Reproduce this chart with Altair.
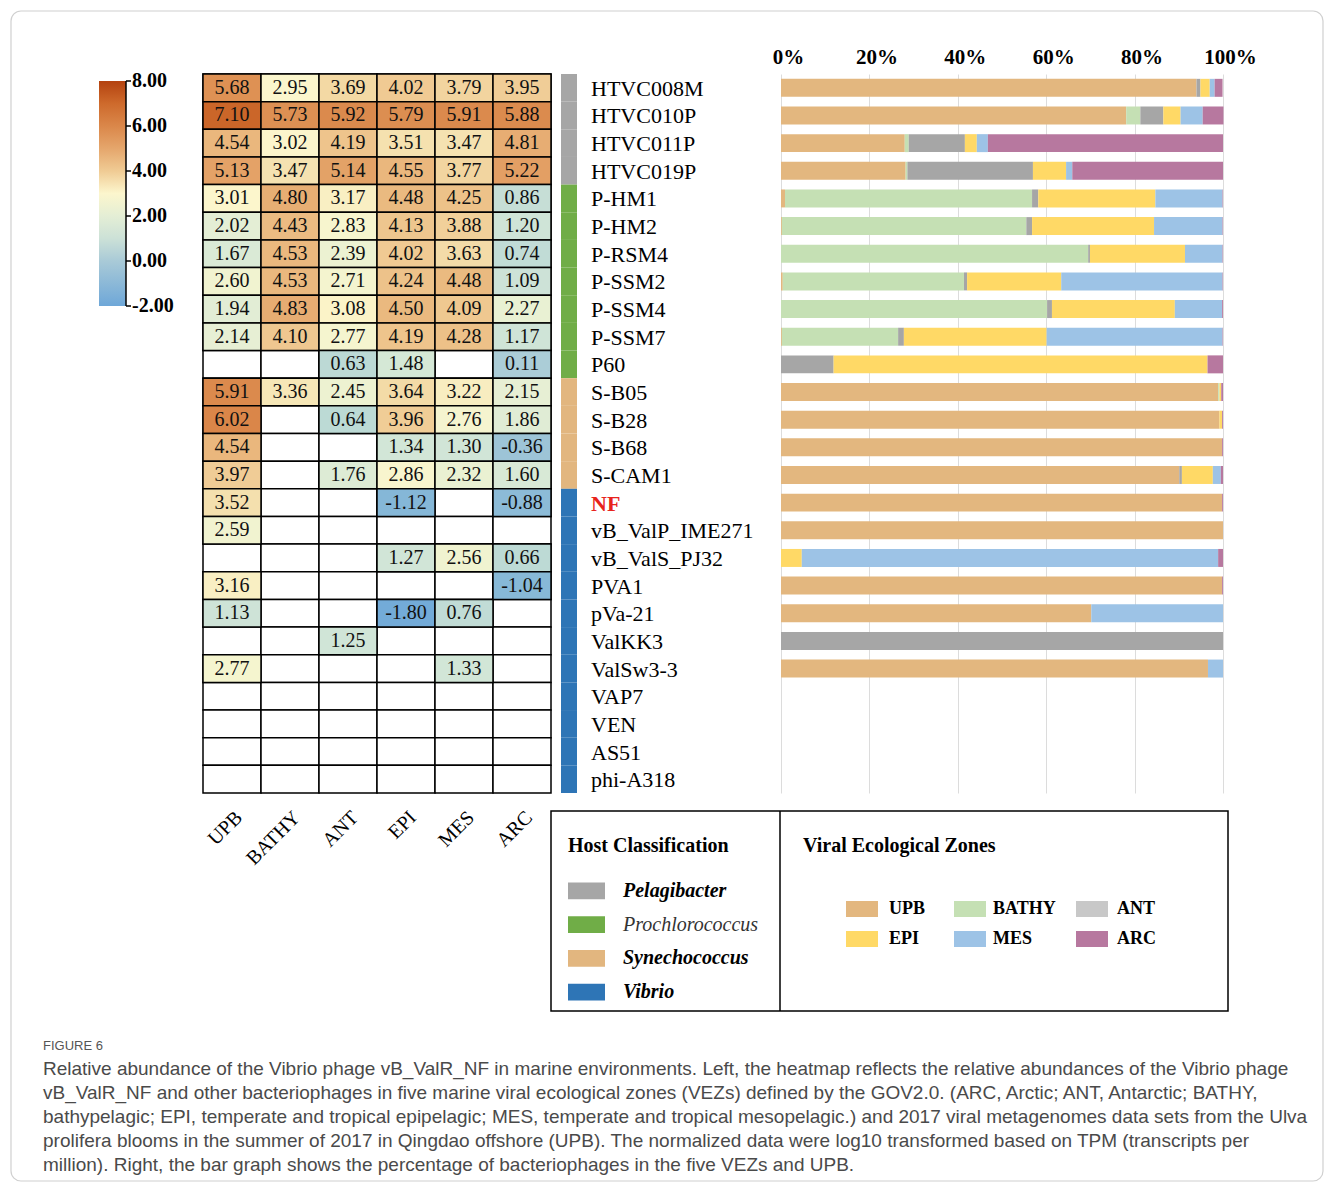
import altair as alt
import pandas as pd

# ---------------- data ----------------
PHAGES = ["HTVC008M", "HTVC010P", "HTVC011P", "HTVC019P", "P-HM1", "P-HM2", "P-RSM4",
          "P-SSM2", "P-SSM4", "P-SSM7", "P60", "S-B05", "S-B28", "S-B68", "S-CAM1", "NF",
          "vB_ValP_IME271", "vB_ValS_PJ32", "PVA1", "pVa-21", "ValKK3", "ValSw3-3",
          "VAP7", "VEN", "AS51", "phi-A318"]
HOSTS = ["Pelagibacter", "Prochlorococcus", "Synechococcus", "Vibrio"]
PHAGE_HOST = ["Pelagibacter"] * 4 + ["Prochlorococcus"] * 7 + ["Synechococcus"] * 4 + ["Vibrio"] * 11
ZONES = ["UPB", "BATHY", "ANT", "EPI", "MES", "ARC"]

N = None
# heatmap: log10(TPM) per zone (None = blank cell)
HEAT_UPB = [5.68, 7.10, 4.54, 5.13, 3.01, 2.02, 1.67, 2.60, 1.94, 2.14, N, 5.91, 6.02, 4.54, 3.97,
            3.52, 2.59, N, 3.16, 1.13, N, 2.77, N, N, N, N]
HEAT_BATHY = [2.95, 5.73, 3.02, 3.47, 4.80, 4.43, 4.53, 4.53, 4.83, 4.10, N, 3.36, N, N, N,
              N, N, N, N, N, N, N, N, N, N, N]
HEAT_ANT = [3.69, 5.92, 4.19, 5.14, 3.17, 2.83, 2.39, 2.71, 3.08, 2.77, 0.63, 2.45, 0.64, N, 1.76,
            N, N, N, N, N, 1.25, N, N, N, N, N]
HEAT_EPI = [4.02, 5.79, 3.51, 4.55, 4.48, 4.13, 4.02, 4.24, 4.50, 4.19, 1.48, 3.64, 3.96, 1.34, 2.86,
            -1.12, N, 1.27, N, -1.80, N, N, N, N, N, N]
HEAT_MES = [3.79, 5.91, 3.47, 3.77, 4.25, 3.88, 3.63, 4.48, 4.09, 4.28, N, 3.22, 2.76, 1.30, 2.32,
            N, N, 2.56, N, 0.76, N, 1.33, N, N, N, N]
HEAT_ARC = [3.95, 5.88, 4.81, 5.22, 0.86, 1.20, 0.74, 1.09, 2.27, 1.17, 0.11, 2.15, 1.86, -0.36, 1.60,
            -0.88, N, 0.66, -1.04, N, N, N, N, N, N, N]
COLORBAR_TICKS = [-2, 0, 2, 4, 6, 8]

# bar graph: percentage of each phage in each zone
PCT_UPB = [94.0, 78.1, 28.0, 28.2, 0.9, 0.2, 0, 0.4, 0, 0.2, 0, 98.9, 99.2, 99.8, 90.1,
           99.8, 100, 0, 99.8, 70.2, 0, 96.6, 0, 0, 0, 0]
PCT_BATHY = [0, 3.2, 0.9, 0.4, 55.9, 55.3, 69.5, 41.0, 60.2, 26.3, 0, 0.3, 0, 0, 0,
             0, 0, 0, 0, 0, 0, 0, 0, 0, 0, 0]
PCT_ANT = [0.9, 5.2, 12.7, 28.4, 1.4, 1.3, 0.4, 0.7, 1.1, 1.3, 11.9, 0, 0, 0, 0.6,
           0, 0, 0, 0, 0, 100, 0, 0, 0, 0, 0]
PCT_EPI = [2.1, 3.9, 2.7, 7.5, 26.5, 27.6, 21.5, 21.3, 27.8, 32.3, 84.6, 0.4, 0.6, 0, 7.0,
           0, 0, 4.7, 0, 0, 0, 0, 0, 0, 0, 0]
PCT_MES = [1.1, 5.0, 2.5, 1.4, 15.2, 15.5, 8.5, 36.5, 10.7, 39.8, 0, 0, 0, 0, 1.8,
           0, 0, 94.2, 0, 29.8, 0, 3.4, 0, 0, 0, 0]
PCT_ARC = [1.8, 4.7, 53.2, 34.1, 0.1, 0.1, 0.1, 0.1, 0.2, 0.1, 3.5, 0.4, 0.2, 0.2, 0.5,
           0.2, 0, 1.1, 0.2, 0, 0, 0, 0, 0, 0, 0]
PCT_TICKS = [0, 20, 40, 60, 80, 100]

FIG_LABEL = "FIGURE 6"
CAPTION = [
    "Relative abundance of the Vibrio phage vB_ValR_NF in marine environments. Left, the heatmap reflects the relative abundances of the Vibrio phage",
    "vB_ValR_NF and other bacteriophages in five marine viral ecological zones (VEZs) defined by the GOV2.0. (ARC, Arctic; ANT, Antarctic; BATHY,",
    "bathypelagic; EPI, temperate and tropical epipelagic; MES, temperate and tropical mesopelagic.) and 2017 viral metagenomes data sets from the Ulva",
    "prolifera blooms in the summer of 2017 in Qingdao offshore (UPB). The normalized data were log10 transformed based on TPM (transcripts per",
    "million). Right, the bar graph shows the percentage of bacteriophages in the five VEZs and UPB.",
]

# ---------------- styles / layout ----------------
SERIF = "Liberation Serif"
SANS = "Liberation Sans"
HOST_COLORS = ["#a6a6a6", "#70ad47", "#e2b67f", "#2e75b6"]
ZONE_COLORS = ["#e3b77f", "#c5e0b4", "#a6a6a6", "#ffd966", "#9dc3e6", "#b7789f"]
ZONE_LEGEND_COLORS = ["#e3b77f", "#c5e0b4", "#c8c8c8", "#ffd966", "#9dc3e6", "#b7789f"]
HEAT_STOPS = [-2, 0, 1, 2, 3, 4, 5, 6, 7, 8]
HEAT_COLORS = ["#6ea7d8", "#a9cad7", "#cce1d7", "#e4eed5", "#fcf6cd", "#f0cb94",
               "#e5a66c", "#da874a", "#ce6a2c", "#b4420f"]

TOP_W, TOP_H = 1020, 719          # shared-row panel
HEAT_RANGE = [0, 348]             # heatmap columns
STRIP_RANGE = [358, 374]          # host colour strip
BAR_RANGE = [578, 1020]           # bar graph
ROW_LABEL_X = 388
CB_X0, CB_X1 = -104, -77          # colour bar
CB_RANGE = [232, 7]
BOT_W, BOT_H = 1025, 200          # legend-box panel
BOX_X0, BOX_DIV, BOX_X1 = 348, 577, 1025
CAP_X, CAP_FIG_Y, CAP_Y = -160, 235, 249
OUTER = (-192, 1120, -800, 370)   # light page frame


def fmt(v):
    if v is None:
        return None
    return ("-" if v < 0 else "") + f"{abs(v):.2f}"


# ---------------- tables ----------------
heat_cols = [HEAT_UPB, HEAT_BATHY, HEAT_ANT, HEAT_EPI, HEAT_MES, HEAT_ARC]
heat_rows = []
for j, z in enumerate(ZONES):
    for i, p in enumerate(PHAGES):
        v = heat_cols[j][i]
        heat_rows.append({"phage": p, "zone": z, "value": v, "label": fmt(v)})
heat_df = pd.DataFrame(heat_rows)

pct_cols = [PCT_UPB, PCT_BATHY, PCT_ANT, PCT_EPI, PCT_MES, PCT_ARC]
bar_rows = []
for j, z in enumerate(ZONES):
    for i, p in enumerate(PHAGES):
        if pct_cols[j][i] > 0:
            bar_rows.append({"phage": p, "zone": z, "zidx": j, "pct": pct_cols[j][i]})
bar_df = pd.DataFrame(bar_rows)

strip_df = pd.DataFrame({"phage": PHAGES, "host": PHAGE_HOST, "col": "host"})
label_df = pd.DataFrame({"phage": PHAGES})
cb_tick_df = pd.DataFrame({"v": COLORBAR_TICKS, "label": [fmt(float(t)) for t in COLORBAR_TICKS]})
cb_span_df = pd.DataFrame({"lo": [HEAT_STOPS[0]], "hi": [HEAT_STOPS[-1]]})

y_rows = alt.Y("phage:N", scale=alt.Scale(domain=PHAGES, paddingInner=0, paddingOuter=0), axis=None)

# ---------------- heatmap ----------------
x_heat = alt.X("zone:N", scale=alt.Scale(domain=ZONES, range=HEAT_RANGE, paddingInner=0, paddingOuter=0),
               axis=alt.Axis(title=None, orient="bottom", labelAngle=-45, labelFont=SERIF,
                             labelFontSize=20, labelColor="black", domain=False, ticks=False,
                             grid=False, labelPadding=14))
hbase = alt.Chart(heat_df).encode(x=x_heat, y=y_rows)
cells_bg = hbase.mark_rect(fill="white", stroke="black", strokeWidth=1.5)
cells = hbase.transform_filter("isValid(datum.value)").mark_rect(stroke="black", strokeWidth=1.5).encode(
    color=alt.Color("value:Q", scale=alt.Scale(domain=HEAT_STOPS, range=HEAT_COLORS), legend=None)
)
cell_text = hbase.transform_filter("isValid(datum.value)").mark_text(
    font=SERIF, fontSize=20, color="#111111").encode(text="label:N")
heatmap = alt.layer(cells_bg, cells, cell_text)

# ---------------- host strip ----------------
strip = alt.Chart(strip_df).mark_rect().encode(
    x=alt.X("col:N", scale=alt.Scale(range=STRIP_RANGE, paddingInner=0, paddingOuter=0), axis=None),
    y=y_rows,
    color=alt.Color("host:N", scale=alt.Scale(domain=HOSTS, range=HOST_COLORS), legend=None),
)

# ---------------- row labels ----------------
row_labels = alt.Chart(label_df).transform_filter("datum.phage !== 'NF'").mark_text(
    align="left", baseline="middle", font=SERIF, fontSize=22, color="black", dy=1
).encode(y=y_rows, x=alt.value(ROW_LABEL_X), text="phage:N")
row_label_nf = alt.Chart(label_df).transform_filter("datum.phage === 'NF'").mark_text(
    align="left", baseline="middle", font=SERIF, fontSize=22, fontWeight="bold", color="#e8231c", dy=1
).encode(y=y_rows, x=alt.value(ROW_LABEL_X), text="phage:N")

# ---------------- bar chart ----------------
bars = alt.Chart(bar_df).mark_bar(height={"band": 0.65}).encode(
    x=alt.X("pct:Q", stack="zero", scale=alt.Scale(domain=[0, 100], range=BAR_RANGE, nice=False),
            axis=alt.Axis(title=None, orient="top", values=PCT_TICKS,
                          labelExpr="datum.value + '%'", labelFont=SERIF, labelFontSize=21,
                          labelFontWeight="bold", labelColor="black", domain=False, ticks=False,
                          labelFlush=False, labelPadding=7, labelOffset=7,
                          grid=True, gridColor="#dcdcdc")),
    y=y_rows,
    color=alt.Color("zone:N", scale=alt.Scale(domain=ZONES, range=ZONE_COLORS), legend=None),
    order=alt.Order("zidx:Q", sort="ascending"),
)

main = alt.layer(heatmap, strip, row_labels, row_label_nf, bars).resolve_scale(
    x="independent", color="independent")

# ---------------- colour bar (heatmap legend) ----------------
cb_scale = alt.Scale(domain=[HEAT_STOPS[0], HEAT_STOPS[-1]], range=CB_RANGE)
y_cb = alt.Y("v:Q", scale=cb_scale, axis=None)
span = HEAT_STOPS[-1] - HEAT_STOPS[0]
grad = alt.LinearGradient(
    gradient="linear", x1=0, x2=0, y1=1, y2=0,
    stops=[alt.GradientStop(offset=(s - HEAT_STOPS[0]) / span, color=c)
           for s, c in zip(HEAT_STOPS, HEAT_COLORS)])
cb_rect = alt.Chart(cb_span_df).mark_rect(fill=grad).encode(
    x=alt.value(CB_X0), x2=alt.value(CB_X1),
    y=alt.Y("lo:Q", scale=cb_scale, axis=None), y2="hi:Q")
cb_line = alt.Chart(cb_span_df).mark_rule(color="black", strokeWidth=1.5).encode(
    x=alt.value(CB_X1), y=alt.Y("lo:Q", scale=cb_scale, axis=None), y2="hi:Q")
cb_ticks = alt.Chart(cb_tick_df).mark_rule(color="black", strokeWidth=1.5).encode(
    x=alt.value(CB_X1), x2=alt.value(CB_X1 + 5), y=y_cb)
cb_labels = alt.Chart(cb_tick_df).mark_text(
    align="left", baseline="middle", font=SERIF, fontSize=20, fontWeight="bold", color="black"
).encode(x=alt.value(CB_X1 + 6), y=y_cb, text="label:N")
colorbar = alt.layer(cb_rect, cb_line, cb_ticks, cb_labels)

top = alt.layer(main, colorbar).resolve_scale(
    x="independent", y="independent", color="independent"
).properties(width=TOP_W, height=TOP_H)

# ---------------- legend box + caption ----------------
one = pd.DataFrame({"a": [0]})
outer = alt.Chart(one).mark_rect(fill="transparent", stroke="#d0d0d0", strokeWidth=1.2,
                                 cornerRadius=10).encode(
    x=alt.value(OUTER[0]), x2=alt.value(OUTER[1]), y=alt.value(OUTER[2]), y2=alt.value(OUTER[3]))
frame = alt.Chart(one).mark_rect(fill="transparent", stroke="black", strokeWidth=1.5).encode(
    x=alt.value(BOX_X0), x2=alt.value(BOX_X1), y=alt.value(0), y2=alt.value(BOT_H))
divider = alt.Chart(one).mark_rule(color="black", strokeWidth=1.5).encode(
    x=alt.value(BOX_DIV), y=alt.value(0), y2=alt.value(BOT_H))

host_leg_df = pd.DataFrame({"host": HOSTS})
y_host = alt.Y("host:N", scale=alt.Scale(domain=HOSTS, range=[63, 198], paddingInner=0.5,
                                         paddingOuter=0.25), axis=None)
host_sw = alt.Chart(host_leg_df).mark_rect().encode(
    y=y_host, x=alt.value(BOX_X0 + 17), x2=alt.value(BOX_X0 + 54),
    color=alt.Color("host:N", scale=alt.Scale(domain=HOSTS, range=HOST_COLORS), legend=None))
host_lab_b = alt.Chart(host_leg_df).transform_filter("datum.host !== 'Prochlorococcus'").mark_text(
    align="left", font=SERIF, fontSize=20, fontStyle="italic", fontWeight="bold", color="black"
).encode(y=y_host, x=alt.value(BOX_X0 + 72), text="host:N")
host_lab_n = alt.Chart(host_leg_df).transform_filter("datum.host === 'Prochlorococcus'").mark_text(
    align="left", font=SERIF, fontSize=20, fontStyle="italic", fontWeight="normal", color="#333333"
).encode(y=y_host, x=alt.value(BOX_X0 + 72), text="host:N")
host_title = alt.Chart(pd.DataFrame({"t": ["Host Classification"]})).mark_text(
    align="left", baseline="middle", font=SERIF, fontSize=20, fontWeight="bold", color="black"
).encode(x=alt.value(BOX_X0 + 17), y=alt.value(35), text="t:N")

LEG_SW_X = [BOX_DIV + 66, BOX_DIV + 174, BOX_DIV + 296]
LEG_LAB_X = [BOX_DIV + 109, BOX_DIV + 213, BOX_DIV + 337]
LEG_ROW_Y = [98, 128]
zone_leg_df = pd.DataFrame({
    "zone": ZONES,
    "sx": [LEG_SW_X[i % 3] for i in range(6)],
    "sx2": [LEG_SW_X[i % 3] + 32 for i in range(6)],
    "lx": [LEG_LAB_X[i % 3] for i in range(6)],
    "sy": [LEG_ROW_Y[i // 3] - 8 for i in range(6)],
    "sy2": [LEG_ROW_Y[i // 3] + 8 for i in range(6)],
    "ly": [LEG_ROW_Y[i // 3] for i in range(6)],
})
zone_sw = alt.Chart(zone_leg_df).mark_rect().encode(
    x=alt.X("sx:Q", scale=None, axis=None), x2="sx2:Q",
    y=alt.Y("sy:Q", scale=None, axis=None), y2="sy2:Q",
    color=alt.Color("zone:N", scale=alt.Scale(domain=ZONES, range=ZONE_LEGEND_COLORS), legend=None))
zone_lab = alt.Chart(zone_leg_df).mark_text(
    align="left", baseline="middle", font=SERIF, fontSize=18, fontWeight="bold", color="black"
).encode(x=alt.X("lx:Q", scale=None, axis=None), y=alt.Y("ly:Q", scale=None, axis=None), text="zone:N")
zone_title = alt.Chart(pd.DataFrame({"t": ["Viral Ecological Zones"]})).mark_text(
    align="left", baseline="middle", font=SERIF, fontSize=20, fontWeight="bold", color="black"
).encode(x=alt.value(BOX_DIV + 23), y=alt.value(35), text="t:N")

fig_label = alt.Chart(pd.DataFrame({"t": [FIG_LABEL]})).mark_text(
    align="left", baseline="middle", font=SANS, fontSize=13, color="#555555"
).encode(x=alt.value(CAP_X), y=alt.value(CAP_FIG_Y), text="t:N")
caption = alt.Chart(one).mark_text(
    text=CAPTION, align="left", baseline="top", font=SANS, fontSize=19, lineHeight=24,
    color="#4a4a4a"
).encode(x=alt.value(CAP_X), y=alt.value(CAP_Y))

bottom = alt.layer(outer, frame, divider, host_sw, host_lab_b, host_lab_n, host_title,
                   zone_sw, zone_lab, zone_title, fig_label, caption).resolve_scale(
    color="independent", x="independent", y="independent"
).properties(width=BOT_W, height=BOT_H)

# ---------------- composition ----------------
chart = alt.vconcat(
    top, bottom, spacing=18, bounds="flush"
).properties(
    padding={"left": 2, "top": 2, "right": 0, "bottom": 0}
).configure(font=SERIF, background="white").configure_view(strokeWidth=0).configure_axis(domain=False)

chart.save("out.html", embed_options={"renderer": "svg", "actions": False})
